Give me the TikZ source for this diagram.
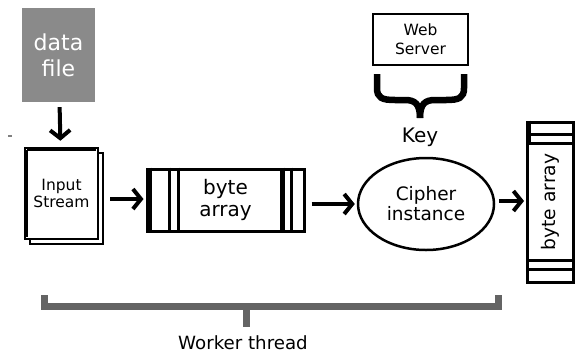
\documentclass[tikz,border=0pt]{standalone}
\usepackage{fontspec}
\setmainfont{DejaVu Sans}
\usetikzlibrary{arrows.meta,shapes.geometric,shadows}
\definecolor{filegray}{RGB}{138,138,138}
\definecolor{threadgray}{RGB}{100,100,100}
\newcommand\fs[2]{\fontsize{#1}{#2}\selectfont}

\begin{document}
\begin{tikzpicture}[x=1pt,y=-1pt]

\tikzset{box/.style={draw,line width=2.5pt,align=center,inner sep=0pt}}
\tikzset{flow/.style={line width=4pt,shorten >=2pt,-{Straight Barb[length=8pt,width=20pt]}}}
\tikzset{bar/.style={line width=2.5pt}}
\tikzset{thread/.style={threadgray,line width=7pt}}

\useasboundingbox (0,0) rectangle (577,354);

\node[fill=filegray,text=white,minimum width=73pt,minimum height=94pt,align=center,inner sep=0pt,
  font=\fs{22}{26}] (datafile) at (58.5,55) {data\\file};
\node[box,fill=white,minimum width=73pt,minimum height=91pt,font=\fs{15.5}{17},
  copy shadow={shadow xshift=5pt,shadow yshift=-5pt}]
  (instream) at (61.5,193.5) {Input\\Stream};
\node[box,line width=3pt,minimum width=157pt,minimum height=62pt,font=\fs{20}{22}]
  (bytes) at (225.5,200) {byte\\array};
\node[box,ellipse,minimum width=136pt,minimum height=92pt,font=\fs{18.5}{20}]
  (cipher) at (426,204) {Cipher\\instance};
\node[box,minimum width=95pt,minimum height=51pt,font=\fs{15.5}{19}]
  (webserver) at (420.5,39.5) {Web\\Server};
\node[font=\fs{20}{22}] (key) at (420,137) {Key};
\node[box,line width=3pt,minimum width=46pt,minimum height=160pt,font=\fs{18.7}{20}]
  (bytesout) at (550.5,202) {\rotatebox{90}{byte array}};

\draw[bar] ([xshift=3pt,yshift=-3pt]instream.north west) -- ([xshift=3pt,yshift=3pt]instream.south west);
\draw[bar] ([xshift=3pt,yshift=-3pt]instream.north west) -- ([xshift=-3pt,yshift=-3pt]instream.north east);

\draw[bar,line width=5pt] ([xshift=4pt]bytes.north west) -- ([xshift=4pt]bytes.south west);
\draw[bar] ([xshift=24pt]bytes.north west) -- ([xshift=24pt]bytes.south west);
\draw[bar] ([xshift=33pt]bytes.north west) -- ([xshift=33pt]bytes.south west);
\draw[bar,line width=5pt] ([xshift=-23.5pt]bytes.north east) -- ([xshift=-23.5pt]bytes.south east);
\draw[bar] ([xshift=-14pt]bytes.north east) -- ([xshift=-14pt]bytes.south east);

\draw[bar,line width=5pt] ([xshift=2pt]bytesout.north west) -- ([xshift=2pt,yshift=-24pt]bytesout.north west);
\draw[bar] ([yshift=-14pt]bytesout.north west) -- ([yshift=-14pt]bytesout.north east);
\draw[bar] ([yshift=-23pt]bytesout.north west) -- ([yshift=-23pt]bytesout.north east);
\draw[bar] ([yshift=23pt]bytesout.south west) -- ([yshift=23pt]bytesout.south east);
\draw[bar] ([yshift=14pt]bytesout.south west) -- ([yshift=14pt]bytesout.south east);

\draw[flow,shorten <=5pt,shorten >=6pt] (datafile) -- (instream);
\draw[flow] ([xshift=11pt,yshift=-5.5pt]instream.east) coordinate (s1) -- (s1 -| bytes.west);
\draw[flow] ([xshift=6pt,yshift=-4pt]bytes.east) coordinate (s2) -- (s2 -| cipher.west);
\draw[flow] ([xshift=4pt,yshift=3pt]cipher.east) coordinate (s3) -- (s3 -| bytesout.west);

\draw[line width=6.5pt] (377,74) -- (377,88) .. controls (377,98) and (382,100) .. (395,100)
  -- (405,100) .. controls (415,100) and (420,104) .. (420,118);
\draw[line width=6.5pt] (464,74) -- (464,88) .. controls (464,98) and (459,100) .. (446,100)
  -- (435,100) .. controls (425,100) and (420,104) .. (420,118);

\node[font=\fs{18.2}{20}] (worker) at (243,343) {Worker thread};
\draw[thread] (44,295) -- (44,306) -- (498,306) -- (498,295);
\draw[thread] (246.5,306) -- (246.5,327);

\draw[gray,line width=1.5pt] (8,136) -- (12,136);

\end{tikzpicture}
\end{document}
